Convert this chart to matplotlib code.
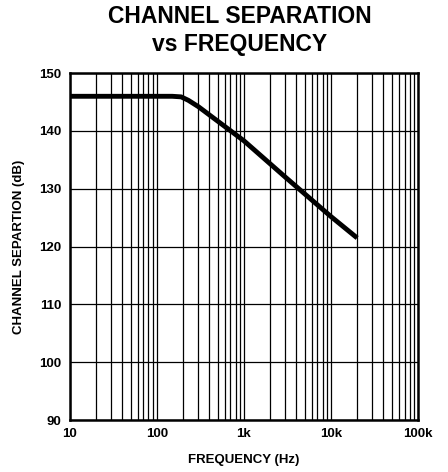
import numpy as np
import matplotlib
matplotlib.use("Agg")
import matplotlib.pyplot as plt
from matplotlib.ticker import FixedLocator, LogLocator, NullFormatter

plt.rcParams['font.family'] = ['Liberation Sans', 'DejaVu Sans']
plt.rcParams['font.weight'] = 'bold'

# curve
freq = [10, 150, 190, 230, 300, 1000, 3000, 10000, 20000]
sep = [146, 146, 145.9, 145.3, 144.2, 138.3, 132.0, 125.2, 121.5]

x_ticks = [10, 100, 1000, 10000, 100000]
x_labels = ['10', '100', '1k', '10k', '100k']
y_ticks = [90, 100, 110, 120, 130, 140, 150]

fig = plt.figure(figsize=(4.48, 4.72), dpi=100)
ax = fig.add_axes([0.156, 0.110, 0.777, 0.735])

ax.set_xscale('log')
ax.set_xlim(10, 100000)
ax.set_ylim(90, 150)

ax.xaxis.set_major_locator(FixedLocator(x_ticks))
ax.set_xticks(x_ticks)
ax.set_xticklabels(x_labels)
ax.xaxis.set_minor_locator(LogLocator(base=10, subs=np.arange(2, 10)))
ax.xaxis.set_minor_formatter(NullFormatter())
ax.set_yticks(y_ticks)

ax.grid(True, which='both', axis='x', color='black', linewidth=0.9)
ax.grid(True, which='major', axis='y', color='black', linewidth=0.9)
ax.tick_params(which='both', length=0, labelsize=9.5, pad=6)

for s in ax.spines.values():
    s.set_linewidth(1.8)

ax.plot(freq, sep, color='black', linewidth=3.5, solid_capstyle='butt')

ax.set_xlabel('FREQUENCY (Hz)', fontsize=9.5, fontweight='bold', labelpad=10)
ax.set_ylabel('CHANNEL SEPARTION (dB)', fontsize=9.5, fontweight='bold', labelpad=10)
fig.text(0.535, 0.966, 'CHANNEL SEPARATION', ha='center', va='center',
         fontsize=16.5, fontweight='bold')
fig.text(0.535, 0.905, 'vs FREQUENCY', ha='center', va='center',
         fontsize=16.5, fontweight='bold')

fig.savefig('out.png', dpi=100)
